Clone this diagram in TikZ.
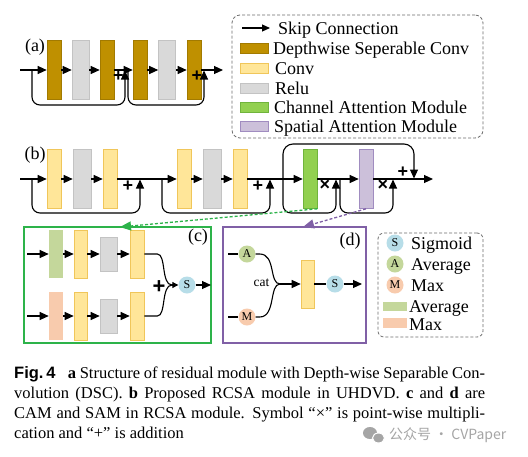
\documentclass[tikz,border=0pt]{standalone}
\usepackage{fontspec}
\setmainfont{Liberation Serif}
\newfontfamily\capsans{Liberation Sans}
\newfontfamily\cjkfont{Noto Sans CJK SC}
\usetikzlibrary{arrows.meta}
\definecolor{dscgold}{RGB}{191,144,0}
\definecolor{convfill}{RGB}{255,230,153}
\definecolor{convdraw}{RGB}{240,198,90}
\definecolor{relufill}{RGB}{217,217,217}
\definecolor{reludraw}{RGB}{195,195,195}
\definecolor{camfill}{RGB}{146,208,80}
\definecolor{camdraw}{RGB}{112,180,60}
\definecolor{samfill}{RGB}{204,192,218}
\definecolor{samdraw}{RGB}{160,140,192}
\definecolor{avgfill}{RGB}{196,215,155}
\definecolor{maxfill}{RGB}{248,203,173}
\definecolor{sigfill}{RGB}{183,221,232}
\definecolor{boxgreen}{RGB}{45,179,74}
\definecolor{boxpurple}{RGB}{128,96,166}
\definecolor{leggray}{RGB}{110,110,110}
\definecolor{wmgray}{RGB}{165,165,165}
\begin{document}
\begin{tikzpicture}[x=1pt,y=-1pt]
\tikzset{
  blk/.style={rectangle, inner sep=0pt, minimum width=14pt, minimum height=59pt, line width=0.6pt},
  dscb/.style={blk, fill=dscgold, draw=dscgold!85!black},
  convb/.style={blk, fill=convfill, draw=convdraw},
  relub/.style={blk, fill=relufill, draw=reludraw, minimum width=17pt},
  camb/.style={blk, fill=camfill, draw=camdraw},
  samb/.style={blk, fill=samfill, draw=samdraw},
  ln/.style={line width=1.1pt, black},
  arr/.style={ln, -{Triangle[length=9pt,width=8pt]}},
  sarr/.style={ln, -{Triangle[length=6pt,width=6pt]}},
  lp/.style={ln, rounded corners=8pt},
  lparr/.style={lp, -{Triangle[length=9pt,width=8pt]}},
  opsym/.style={font=\capsans\bfseries\fontsize{18}{18}\selectfont, inner sep=0pt},
  lbl/.style={font=\fontsize{18}{18}\selectfont, inner sep=0pt},
  legtxt/.style={font=\fontsize{18}{18}\selectfont, inner sep=0pt, anchor=base west},
  swatch/.style={rectangle, inner sep=0pt, minimum width=28pt, minimum height=10pt, line width=0.6pt},
  circ/.style={circle, inner sep=0pt, minimum size=17pt, font=\fontsize{12}{12}\selectfont},
  capline/.style={inner sep=0pt, anchor=base west, font=\fontsize{16.5}{20}\selectfont},
}
\useasboundingbox (0,0) rectangle (528,456);
\fill[white] (0,0) rectangle (528,456);

% ---------------- (a) ----------------
\node[lbl] (la) at (35,47) {(a)};
\node[dscb]  (a1) at (54,70) {};
\node[relub] (a2) at (80.5,70) {};
\node[dscb]  (a3) at (107,70) {};
\node[dscb]  (a4) at (140,70) {};
\node[relub] (a5) at (167,70) {};
\node[dscb]  (a6) at (194,70) {};
\coordinate (ain) at (20,70);
\coordinate (aout) at (223,70);
\coordinate (as1) at (32,70);
\coordinate (aj1) at (125,70.5);
\coordinate (as2) at (128,70);
\coordinate (aj2) at (204,70.5);
\draw[arr] (ain) -- (a1.west);
\draw[arr] (a1.east) -- (a2.west);
\draw[arr] (a2.east) -- (a3.west);
\draw[arr] (a3.east) -- (a4.west);
\draw[arr] (a4.east) -- (a5.west);
\draw[arr] (a5.east) -- (a6.west);
\draw[arr] (a6.east) -- (aout);
\draw[lparr] (as1) -- ++(0,35) -| (aj1);
\draw[lparr] (as2) -- ++(0,35) -| (aj2);
\node[opsym] (ap1) at (118.5,76.5) {+};
\node[opsym] (ap2) at (197,76.5) {+};

% ---------------- legend 1 ----------------
\node[draw=leggray, dash pattern=on 3pt off 2pt, line width=0.8pt, rounded corners=8pt,
      minimum width=251pt, minimum height=123pt, inner sep=0pt] (leg1) at (357.5,76.5) {};
\coordinate (lsk1) at (242,28);
\coordinate (lsk2) at (270,28);
\draw[ln, -{Triangle[length=8pt,width=7pt]}] (lsk1) -- (lsk2);
\node[legtxt] (t0) at (278,34) {Skip Connection};
\node[swatch, fill=dscgold, draw=dscgold!85!black] (s1) at (254,48) {};
\node[legtxt] (t1) at (273,54) {Depthwise Seperable Conv};
\node[swatch, fill=convfill, draw=convdraw] (s2) at (254,68) {};
\node[legtxt] (t2) at (275,74) {Conv};
\node[swatch, fill=relufill, draw=reludraw] (s3) at (254,88) {};
\node[legtxt] (t3) at (275,94) {Relu};
\node[swatch, fill=camfill, draw=camdraw] (s4) at (254,107) {};
\node[legtxt] (t4) at (274,113) {Channel Attention Module};
\node[swatch, fill=samfill, draw=samdraw] (s5) at (254,126) {};
\node[legtxt] (t5) at (274,132) {Spatial Attention Module};

% ---------------- (b) ----------------
\node[lbl] (lb) at (35,155) {(b)};
\node[convb] (b1) at (54,179) {};
\node[relub, minimum width=18pt] (b2) at (82,179) {};
\node[convb] (b3) at (110,179) {};
\node[convb] (b4) at (184,179) {};
\node[relub, minimum width=18pt] (b5) at (212,179) {};
\node[convb] (b6) at (240,179) {};
\node[camb]  (cam) at (310,179) {};
\node[samb]  (sam) at (366,179) {};
\coordinate (bin) at (20,179);
\coordinate (bout) at (433,179);
\coordinate (bs1) at (32,179);
\coordinate (bj1) at (140,179.5);
\coordinate (bs2) at (162,179);
\coordinate (bj2) at (270,179.5);
\coordinate (bs3) at (283,179);
\coordinate (bj3) at (336,179.5);
\coordinate (bs4) at (340,179);
\coordinate (bj4) at (393,179.5);
\coordinate (bj5) at (414,178.5);
\draw[arr] (bin) -- (b1.west);
\draw[arr] (b1.east) -- (b2.west);
\draw[arr] (b2.east) -- (b3.west);
\draw[arr] (b3.east) -- (b4.west);
\draw[arr] (b4.east) -- (b5.west);
\draw[arr] (b5.east) -- (b6.west);
\draw[arr] (b6.east) -- (cam.west);
\draw[arr] (cam.east) -- (sam.west);
\draw[arr] (sam.east) -- (bout);
\draw[lparr] (bs1) -- ++(0,34) -| (bj1);
\draw[lparr] (bs2) -- ++(0,34) -| (bj2);
\draw[lparr] (bs3) -- ++(0,34) -| (bj3);
\draw[lparr] (bs4) -- ++(0,34) -| (bj4);
\draw[ln, rounded corners=10pt, -{Triangle[length=9pt,width=8pt]}] (bs3) -- ++(0,-35) -| (bj5);
\node[opsym] (bp1) at (128,186.5) {+};
\node[opsym] (bp2) at (258,186.5) {+};
\node[opsym] (bx1) at (325,185.5) {×};
\node[opsym] (bx2) at (383,185.5) {×};
\node[opsym] (bp3) at (403,172) {+};

% ---------------- (c) ----------------
\node[draw=boxgreen, line width=1.5pt, minimum width=187pt, minimum height=116pt, inner sep=0pt] (boxc) at (117.5,285) {};
\node[lbl] (lc) at (198,237) {(c)};
\node[blk, fill=avgfill, minimum height=48pt] (cavg) at (56,254) {};
\node[convb, minimum width=13pt, minimum height=48pt] (cy1) at (80.5,254) {};
\node[relub, minimum height=34pt] (cg1) at (108.5,254) {};
\node[convb, minimum height=48pt] (cy2) at (137,254) {};
\node[blk, fill=maxfill, minimum height=48pt] (cmax) at (56,316) {};
\node[convb, minimum width=13pt, minimum height=48pt] (cy3) at (80.5,316) {};
\node[relub, minimum height=34pt] (cg2) at (108.5,316) {};
\node[convb, minimum height=48pt] (cy4) at (137,316) {};
\coordinate (cin1) at (27,254);
\coordinate (cin2) at (27,316);
\coordinate (cm) at (172,285);
\node[circ, fill=sigfill] (cS) at (187,285) {S};
\coordinate (cout) at (211,285);
\draw[arr] (cin1) -- (cavg.west);
\draw[arr] (cavg.east) -- (cy1.west);
\draw[arr] (cy1.east) -- (cg1.west);
\draw[arr] (cg1.east) -- (cy2.west);
\draw[arr] (cin2) -- (cmax.west);
\draw[arr] (cmax.east) -- (cy3.west);
\draw[arr] (cy3.east) -- (cg2.west);
\draw[arr] (cg2.east) -- (cy4.west);
\draw[ln] (cy2.east) -- ++(13,0) .. controls +(9,0) and (161,285) .. (cm);
\draw[ln] (cy4.east) -- ++(13,0) .. controls +(9,0) and (161,285) .. (cm);
\draw[sarr] (cm) -- (cS.west);
\draw[arr] (cS.east) -- (cout);
\node[opsym, font=\capsans\bfseries\fontsize{22}{22}\selectfont] (cplus) at (159,287) {+};

% ---------------- (d) ----------------
\node[draw=boxpurple, line width=1.5pt, minimum width=143pt, minimum height=116pt, inner sep=0pt] (boxd) at (294.5,285) {};
\node[lbl] (ld) at (350,241) {(d)};
\node[circ, fill=avgfill] (dA) at (247,254) {A};
\node[circ, fill=maxfill] (dM) at (247,317) {M};
\coordinate (din1) at (228,254);
\coordinate (din2) at (228,317);
\coordinate (dm) at (280,284);
\node[convb, minimum width=13pt, minimum height=48pt] (dy) at (307.5,284) {};
\node[circ, fill=sigfill] (dS) at (335,284) {S};
\coordinate (dout) at (362,284);
\draw[ln] (din1) -- (dA.west);
\draw[ln] (din2) -- (dM.west);
\draw[ln] (dA.east) -- ++(4,0) .. controls (276,254) and (269,284) .. (dm);
\draw[ln] (dM.east) -- ++(4,0) .. controls (276,317) and (269,284) .. (dm);
\draw[arr] (dm) -- (dy.west);
\draw[ln] (dy.east) -- (dS.west);
\draw[arr] (dS.east) -- (dout);
\node[inner sep=0pt, font=\fontsize{13.5}{13.5}\selectfont] (dcat) at (261.5,283) {cat};

% ---------------- dashed links ----------------
\coordinate (cTop) at (120,227);
\coordinate (dTop) at (303,227);
\draw[boxgreen, line width=1.3pt, dash pattern=on 3pt off 2pt, -{Triangle[length=11pt,width=9pt]}] (cam.south east) -- (cTop);
\draw[boxpurple, line width=1.3pt, dash pattern=on 3pt off 2pt, -{Triangle[length=11pt,width=9pt]}] (sam.south) -- (dTop);

% ---------------- legend 2 ----------------
\node[draw=leggray, dash pattern=on 3pt off 2pt, line width=0.8pt, rounded corners=6pt,
      minimum width=105pt, minimum height=104pt, inner sep=0pt] (leg2) at (430.5,285) {};
\node[circ, fill=sigfill] (l2S) at (395,243) {S};
\node[legtxt] (u1) at (411,249) {Sigmoid};
\node[circ, fill=avgfill] (l2A) at (395,264) {A};
\node[legtxt] (u2) at (411,270) {Average};
\node[circ, fill=maxfill] (l2M) at (395,285) {M};
\node[legtxt] (u3) at (411,291) {Max};
\node[swatch, fill=avgfill, minimum width=24pt, minimum height=9pt] (l2a) at (395,306.5) {};
\node[legtxt] (u4) at (409,312) {Average};
\node[swatch, fill=maxfill, minimum width=24pt, minimum height=10pt] (l2m) at (395,323) {};
\node[legtxt] (u5) at (409,330) {Max};

% ---------------- caption ----------------
\node[capline] (cap1) at (14,378) {\makebox[471pt][s]{{\capsans\bfseries Fig.\,4}\hspace{0.75em}\textbf{a} Structure of residual module with Depth-wise Separable Con-}};
\node[capline] (cap2) at (14,398) {\makebox[471pt][s]{volution (DSC). \textbf{b} Proposed RCSA module in UHDVD. \textbf{c} and \textbf{d} are}};
\node[capline] (cap3) at (14,418) {\makebox[471pt][s]{CAM and SAM in RCSA module. Symbol “×” is point-wise multipli-}};
\node[capline] (cap4) at (14,438) {cation and “+” is addition};

% ---------------- watermark ----------------
\fill[wmgray] (370,433) ellipse (7 and 6);
\fill[wmgray, draw=white, line width=1pt] (378.5,438) ellipse (6 and 5);
\node[inner sep=0pt, anchor=west, text=wmgray, font=\cjkfont\fontsize{14}{14}\selectfont] (wm) at (389,435) {公众号 · CVPaper};
\end{tikzpicture}
\end{document}
